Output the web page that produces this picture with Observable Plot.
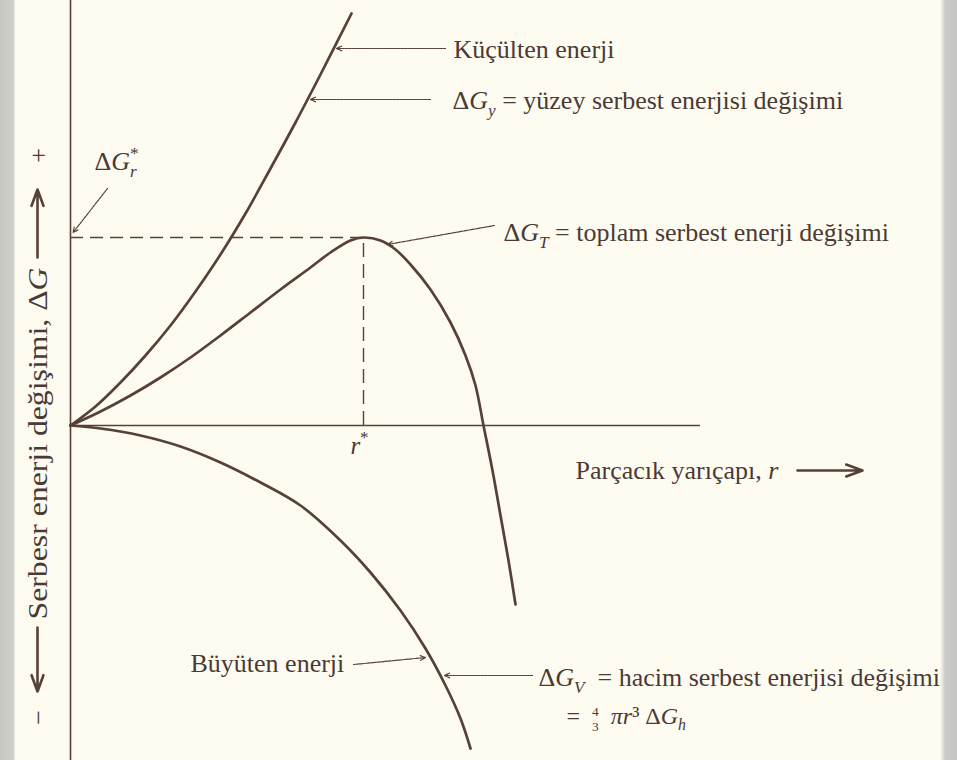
<!DOCTYPE html>
<html>
<head>
<meta charset="utf-8">
<script src="https://cdn.jsdelivr.net/npm/d3@7"></script>
<script src="https://cdn.jsdelivr.net/npm/@observablehq/plot@0.6"></script>
<style>
  html, body { margin: 0; padding: 0; }
  body {
    width: 957px; height: 760px; overflow: hidden;
    background: linear-gradient(to right, #c6c7c3 0px, #cfd0cc 14px, #fdfbef 15px, #fefcf1 940px, #cbccc8 945px, #c5c6c2 957px);
  }
  #chart svg { display: block; }
</style>
</head>
<body>
<div id="chart"></div>
<script>
// Units: r (particle radius) and ΔG (free energy change), arbitrary units
const surfaceR = [0, 2.5, 5, 7.5, 10, 12.5, 15, 17.5, 20, 22.5, 25, 28.1];
const surfaceG = [0, 1.9, 4.3, 7.0, 10.0, 13.4, 17.1, 21.2, 25.7, 30.3, 35.1, 41.2];

const totalR = [0, 3, 6, 9, 12, 15, 18, 21, 24, 26, 28, 29.3, 31, 32.5, 34, 36, 38, 39.5, 40.5, 41.3, 42.2, 43, 43.8, 44.5];
const totalG = [0, 1.4, 3.0, 4.8, 6.8, 9.0, 11.3, 13.6, 15.8, 17.3, 18.5, 18.8, 18.5, 17.6, 16.1, 13.6, 10.3, 7.0, 4.0, 0, -4.5, -9.0, -13.5, -17.9];

const volumeR = [0, 3, 7, 11, 15, 19, 23, 27, 30, 33, 35.5, 37.5, 39, 40];
const volumeG = [0, -0.3, -1.0, -2.1, -3.7, -5.7, -8.0, -11.5, -14.7, -18.5, -22.3, -26.0, -29.3, -32.3];

const criticalR = 29.3;   // r*
const criticalG = 18.8;   // ΔG*
const xAxisEnd = 63;

// annotation texts: [G] italic, _{..} subscript, ^{..} superscript, #{a/b} fraction
const labelTexts = [
  "Küçülten enerji",
  "Δ[G]_{y} = yüzey serbest enerjisi değişimi",
  "Δ[G]_{T} = toplam serbest enerji değişimi",
  "Büyüten enerji",
  "Δ[G]_{V}  = hacim serbest enerjisi değişimi",
  "=  #{4/3}  [πr]³ Δ[G]_{h}",
  "Parçacık yarıçapı, [r]",
  "Δ[G]^{*}_{r}"
];
const labelR = [38.3, 38.2, 43.3, 12.0, 46.8, 49.6, 50.5, 2.4];
const labelG = [37.6, 32.5, 19.3, -23.8, -25.2, -29.1, -4.5, 26.4];
const labelSize = [26, 26, 26, 26, 26, 24, 26, 26];

const rStarLabel = "[r]^{*}";
const yAxisLabel = "Serbesr enerji değişimi, Δ[G]";
const yAxisSigns = ["+", "−"];
const yAxisSignG = [27, -29.2];
const yAxisLabelR = -3.2;
const yAxisLabelG = -1.8;

// leader arrows (from text toward curve)
const leaderR1 = [37.5, 36.0, 42.4, 3.7, 28.3, 46.2];
const leaderG1 = [37.7, 32.6, 20.0, 23.7, -23.9, -25.0];
const leaderR2 = [26.6, 24.0, 31.7, 0.25, 35.5, 37.4];
const leaderG2 = [37.7, 32.6, 18.1, 19.3, -23.2, -25.0];

const axisArrowR1 = [72.7, -3.3, -3.3];
const axisArrowG1 = [-4.5, 16.8, -20.2];
const axisArrowR2 = [79.2, -3.3, -3.3];
const axisArrowG2 = [-4.5, 23.6, -26.6];

const ink = "#55403a";
const textInk = "#4a3a35";

const curve = (R, G) => R.map((r, i) => ({r, g: G[i]}));
const labels = labelTexts.map((t, i) => ({t, r: labelR[i], g: labelG[i], s: labelSize[i]}));
const leaders = leaderR1.map((r, i) => ({r1: r, g1: leaderG1[i], r2: leaderR2[i], g2: leaderG2[i]}));
const axisArrows = axisArrowR1.map((r, i) => ({r1: r, g1: axisArrowG1[i], r2: axisArrowR2[i], g2: axisArrowG2[i]}));

const chart = Plot.plot({
  width: 957,
  height: 760,
  margin: 0,
  x: {domain: [-7, 88.7], axis: null},
  y: {domain: [-33.5, 42.5], axis: null},
  style: {background: "transparent", fontFamily: "'Liberation Serif', 'Times New Roman', serif", color: textInk},
  marks: [
    Plot.ruleX([0], {stroke: ink, strokeWidth: 1.6}),
    Plot.ruleY([0], {x1: 0, x2: xAxisEnd, stroke: ink, strokeWidth: 1.5}),
    Plot.ruleY([criticalG], {x1: 0, x2: criticalR, stroke: ink, strokeWidth: 1.6, strokeDasharray: "13,7"}),
    Plot.ruleX([criticalR], {y1: 0, y2: criticalG, stroke: ink, strokeWidth: 1.4, strokeDasharray: "14,7"}),
    Plot.line(curve(surfaceR, surfaceG), {x: "r", y: "g", curve: "catmull-rom", stroke: ink, strokeWidth: 2.7}),
    Plot.line(curve(totalR, totalG), {x: "r", y: "g", curve: "catmull-rom", stroke: ink, strokeWidth: 2.7}),
    Plot.line(curve(volumeR, volumeG), {x: "r", y: "g", curve: "catmull-rom", stroke: ink, strokeWidth: 2.7}),
    Plot.arrow(leaders, {x1: "r1", y1: "g1", x2: "r2", y2: "g2", stroke: ink, strokeWidth: 1.2, strokeDasharray: "2.5,1", headLength: 7, headAngle: 50}),
    Plot.arrow(axisArrows, {x1: "r1", y1: "g1", x2: "r2", y2: "g2", stroke: ink, strokeWidth: 2.6, headLength: 10, headAngle: 40}),
    Plot.text(labels, {x: "r", y: "g", text: "t", textAnchor: "start", fontSize: "s", fill: textInk}),
    Plot.text([rStarLabel], {x: [criticalR - 0.4], y: [-2.0], text: d => d, textAnchor: "middle", fontSize: 25, fill: textInk}),
    Plot.text([yAxisLabel], {x: [yAxisLabelR], y: [yAxisLabelG], text: d => d, rotate: -90, textAnchor: "middle", fontSize: 27, fill: textInk}),
    Plot.text(yAxisSigns, {x: [yAxisLabelR, yAxisLabelR], y: yAxisSignG, text: d => d, rotate: -90, textAnchor: "middle", fontSize: 26, fill: textInk})
  ]
});

document.getElementById("chart").appendChild(chart);

// the rotated axis title is drawn taller in the scan: stretch it along its length
chart.querySelectorAll("text").forEach(el => {
  if (el.textContent === yAxisLabel) {
    el.setAttribute("textLength", 352);
    el.setAttribute("lengthAdjust", "spacingAndGlyphs");
  }
});

// turn the small markup into real tspans (italics, sub/superscripts, fraction)
const NS = "http://www.w3.org/2000/svg";
chart.querySelectorAll("text").forEach(el => {
  const s = el.textContent;
  if (!/[\[_^#]/.test(s)) return;
  const fs = parseFloat(getComputedStyle(el).fontSize) || 25;
  el.textContent = "";
  let cur = 0;
  let lastWasSup = false, lastSupLen = 0;
  const add = (txt, o = {}) => {
    const t = document.createElementNS(NS, "tspan");
    t.textContent = txt;
    if (o.italic) t.setAttribute("font-style", "italic");
    if (o.size) t.setAttribute("font-size", o.size);
    const shift = o.shift || 0;
    if (shift !== cur) t.setAttribute("dy", shift - cur);
    cur = shift;
    if (o.dx) t.setAttribute("dx", o.dx);
    el.appendChild(t);
  };
  const re = /\[([^\]]*)\]|_\{([^}]*)\}|\^\{([^}]*)\}|#\{(\d+)\/(\d+)\}|([^\[_^#]+)/g;
  let m;
  while ((m = re.exec(s))) {
    if (m[1] !== undefined) { add(m[1], {italic: true}); lastWasSup = false; }
    else if (m[2] !== undefined) {
      add(m[2], {italic: true, size: fs * 0.66, shift: fs * 0.26, dx: lastWasSup ? -lastSupLen * fs * 0.34 : 0});
      lastWasSup = false;
    }
    else if (m[3] !== undefined) {
      add(m[3], {size: fs * 0.68, shift: -fs * 0.42});
      lastWasSup = true; lastSupLen = m[3].length;
    }
    else if (m[4] !== undefined) {
      add(m[4], {size: fs * 0.56, shift: -fs * 0.36});
      add(m[5], {size: fs * 0.56, shift: fs * 0.28, dx: -fs * 0.28 * m[4].length});
      lastWasSup = false;
    }
    else { add(m[6]); lastWasSup = false; }
  }
});
</script>
</body>
</html>
